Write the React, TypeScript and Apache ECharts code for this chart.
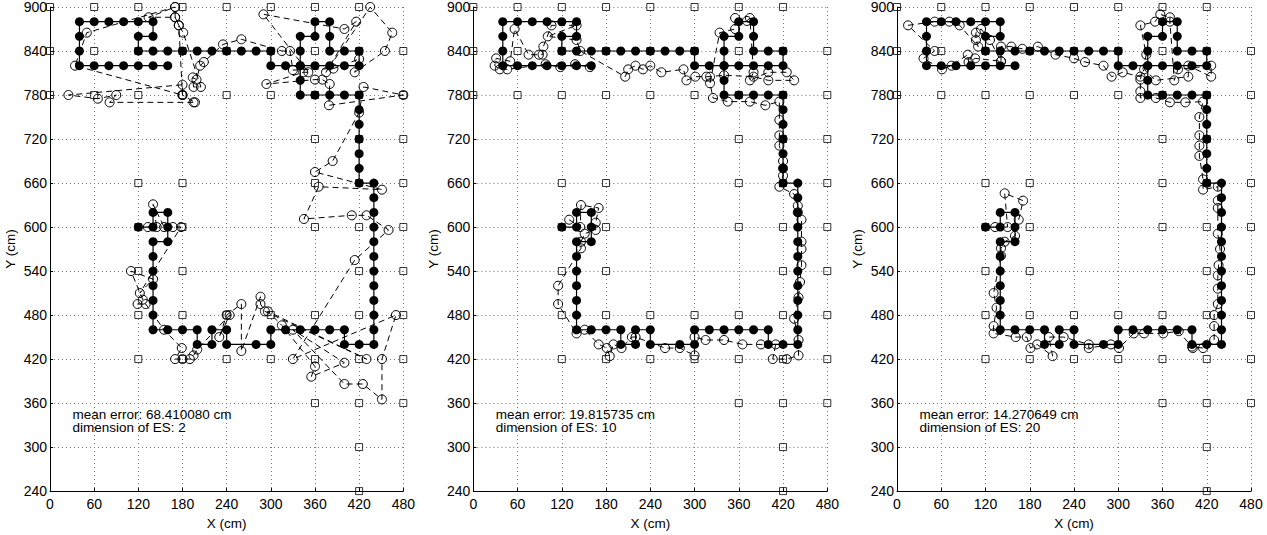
import React, { useEffect, useRef } from "react";
import * as echarts from "echarts";

// Reference (grid) points drawn as squares
const refPoints: [number, number][] = [
  [0, 900], [60, 900], [120, 900], [180, 900], [240, 900], [300, 900], [360, 900], [420, 900],
  [0, 840], [60, 840], [120, 840], [180, 840], [240, 840], [300, 840], [360, 840], [420, 840], [480, 840],
  [0, 780], [60, 780], [120, 780], [180, 780], [240, 780], [300, 780], [360, 780], [420, 780], [480, 780],
  [360, 720], [420, 720], [480, 720],
  [120, 660], [180, 660], [360, 660], [420, 660], [480, 660],
  [120, 600], [180, 600], [360, 600], [420, 600], [480, 600],
  [120, 540], [180, 540], [420, 540], [480, 540],
  [120, 480], [180, 480], [240, 480], [300, 480], [360, 480], [420, 480], [480, 480],
  [120, 420], [180, 420], [240, 420], [300, 420], [360, 420], [420, 420], [480, 420],
  [360, 360], [420, 360], [480, 360],
  [420, 300],
  [420, 240],
];

// True walking path (filled circles)
const truePath: [number, number][] = [
  [120, 600], [140, 600], [140, 620], [160, 620], [160, 600], [160, 580], [140, 580], [140, 560], [140, 540], [140, 520], [140, 500], [140, 480], [140, 460],
  [160, 460], [180, 460], [200, 460], [200, 440], [220, 440], [220, 460], [240, 460], [240, 440], [280, 440], [300, 440], [300, 460], [320, 460], [340, 460], [360, 460], [380, 460], [400, 460], [400, 440], [420, 440], [440, 440],
  [440, 460], [440, 480], [440, 500], [440, 520], [440, 540], [440, 560], [440, 580], [440, 600], [440, 620], [440, 640], [440, 660],
  [420, 660], [420, 680], [420, 700], [420, 720], [420, 740], [420, 760], [420, 780],
  [400, 780], [380, 780], [360, 780], [340, 780], [340, 800], [340, 820], [340, 840], [340, 860], [360, 860], [360, 880], [380, 880], [380, 860], [380, 840], [400, 840], [420, 840], [420, 820], [400, 820], [380, 820], [360, 820], [340, 820], [320, 820], [300, 820], [300, 840],
  [280, 840], [260, 840], [240, 840], [220, 840], [200, 840], [180, 840], [160, 840],
  [140, 840], [120, 840], [120, 860], [140, 860], [140, 880], [120, 880], [100, 880], [80, 880], [60, 880], [40, 880], [40, 860], [40, 840], [40, 820], [60, 820], [80, 820], [100, 820], [120, 820], [140, 820], [160, 820],
];

// Estimated positions, ES dimension 2
const estES2: [number, number][] = [
  [133, 600], [145, 600], [140, 631], [155, 600], [167, 600], [178, 600], [122, 510], [140, 529], [110, 540], [126, 501], [119, 495], [130, 495], [155, 460],
  [179, 435], [170, 420], [180, 420], [190, 420], [195, 425], [200, 433], [244, 480], [230, 450], [240, 480], [260, 495], [260, 431], [286, 505], [286, 495], [292, 485], [430, 420], [296, 485], [315, 466], [360, 410], [355, 396],
  [400, 415], [330, 460], [400, 386], [425, 386], [451, 365], [451, 420], [470, 480], [330, 420], [414, 555], [460, 596], [430, 616],
  [410, 616], [345, 611], [365, 655], [451, 651], [360, 675], [384, 690], [420, 756],
  [426, 791], [480, 780], [379, 766], [380, 795], [370, 801], [360, 801], [294, 795], [344, 811], [351, 811], [290, 890], [400, 870], [416, 880], [375, 811], [435, 900], [465, 865], [455, 840], [414, 811], [420, 829], [385, 816], [330, 814], [326, 840], [315, 840], [260, 856],
  [235, 849], [209, 825], [204, 820], [199, 801], [194, 804], [195, 791], [205, 791],
  [181, 865], [175, 875], [170, 886], [134, 886], [170, 900], [50, 865], [34, 820], [180, 780], [180, 794], [25, 780], [65, 775], [90, 780], [81, 770], [195, 770], [197, 770], [180, 780], [175, 875], [170, 886], [170, 900],
];

// Estimated positions, ES dimension 10
const estES10: [number, number][] = [
  [130, 610], [145, 600], [146, 630], [170, 626], [166, 606], [166, 596], [151, 591], [146, 580], [146, 571], [115, 520], [115, 495], [140, 455], [151, 460],
  [170, 440], [181, 435], [185, 424], [190, 440], [201, 435], [215, 450], [220, 450], [260, 435], [280, 435], [300, 425], [300, 450], [315, 446], [340, 446], [365, 440], [390, 440], [410, 440], [406, 420], [425, 420], [441, 425],
  [441, 446], [435, 475], [441, 504], [443, 525], [445, 548], [445, 570], [445, 580], [445, 610], [440, 620], [440, 629], [435, 645],
  [415, 655], [420, 670], [420, 680], [420, 690], [415, 711], [415, 725], [415, 746],
  [415, 771], [396, 766], [375, 771], [345, 771], [325, 776], [321, 796], [334, 865], [355, 870], [355, 885], [371, 881], [375, 885], [380, 811], [375, 800], [400, 811], [425, 811], [435, 800], [400, 800], [380, 805], [340, 807], [321, 805], [316, 805], [301, 805], [289, 800],
  [285, 815], [255, 811], [240, 820], [230, 815], [220, 820], [210, 815], [206, 805],
  [145, 840], [140, 855], [101, 860], [140, 875], [106, 875], [95, 846], [94, 835], [89, 835], [75, 835], [56, 870], [50, 826], [31, 830], [29, 820], [36, 815], [46, 815], [98, 822], [118, 818], [138, 822], [158, 818],
];

// Estimated positions, ES dimension 20
const estES20: [number, number][] = [
  [133, 600], [150, 600], [146, 646], [171, 636], [165, 610], [160, 588], [146, 580], [141, 571], [141, 561], [131, 510], [135, 490], [131, 465], [131, 455],
  [161, 450], [176, 450], [181, 435], [190, 440], [211, 424], [206, 450], [226, 450], [260, 440], [260, 435], [290, 440], [301, 435], [321, 455], [335, 455], [361, 455], [382, 458], [401, 435], [400, 437], [415, 435], [430, 446],
  [430, 465], [430, 480], [435, 495], [435, 516], [435, 534], [436, 548], [438, 570], [435, 591], [435, 626], [435, 636], [435, 655],
  [415, 651], [415, 665], [410, 697], [410, 711], [410, 725], [410, 750], [415, 771],
  [391, 770], [370, 770], [351, 776], [330, 776], [330, 785], [330, 801], [338, 835], [330, 875], [350, 880], [357, 890], [370, 886], [370, 880], [376, 800], [381, 815], [426, 820], [426, 805], [395, 820], [395, 805], [351, 800], [335, 815], [330, 805], [306, 811], [291, 805],
  [280, 820], [255, 825], [240, 830], [215, 835], [191, 846], [170, 843], [155, 846],
  [141, 846], [141, 826], [126, 855], [114, 870], [107, 865], [107, 855], [110, 846], [85, 875], [71, 880], [51, 880], [15, 875], [51, 840], [36, 830], [61, 815], [74, 820], [96, 835], [97, 825], [106, 830], [141, 826],
];

const estimates = [estES2, estES10, estES20];
const meanErrors = ["68.410080", "19.815735", "14.270649"];
const esDims = [2, 10, 20];

const FONT = "'Liberation Sans', Arial, Helvetica, sans-serif";

const panelLeft = [50, 473.3, 897];
const panelWidth = [353.3, 354, 354];
const panelTop = 7;
const panelHeight = 485.5;

export default function App() {
  const ref = useRef<HTMLDivElement>(null);

  useEffect(() => {
    if (!ref.current) return;
    const chart = echarts.init(ref.current, null, { renderer: "svg" });

    const grids = panelLeft.map((l, i) => ({
      left: l,
      top: panelTop,
      width: panelWidth[i],
      height: panelHeight,
      containLabel: false,
    }));

    const xAxes = panelLeft.map((_, i) => ({
      type: "value",
      gridIndex: i,
      min: 0,
      max: 480,
      interval: 60,
      name: "X (cm)",
      nameLocation: "middle",
      nameGap: 23,
      nameTextStyle: { color: "#000", fontSize: 13.5, fontFamily: FONT },
      axisLine: { show: true, onZero: false, lineStyle: { color: "#000", width: 1 } },
      axisTick: { show: true, inside: true, length: 3, lineStyle: { color: "#000" } },
      axisLabel: { color: "#000", fontSize: 14, margin: 6, fontFamily: FONT },
      splitLine: { show: true, lineStyle: { color: "#777", width: 1, type: [1, 3] } },
    }));

    const yAxes = panelLeft.map((_, i) => ({
      type: "value",
      gridIndex: i,
      min: 240,
      max: 900,
      interval: 60,
      name: "Y (cm)",
      nameLocation: "middle",
      nameGap: 33,
      nameRotate: 90,
      nameTextStyle: { color: "#000", fontSize: 13.5, fontFamily: FONT },
      axisLine: { show: true, onZero: false, lineStyle: { color: "#000", width: 1 } },
      axisTick: { show: true, inside: true, length: 3, lineStyle: { color: "#000" } },
      axisLabel: { color: "#000", fontSize: 14, margin: 3, fontFamily: FONT },
      splitLine: { show: true, lineStyle: { color: "#777", width: 1, type: [1, 3] } },
    }));

    const series: any[] = [];
    panelLeft.forEach((_, i) => {
      series.push({
        type: "scatter",
        xAxisIndex: i,
        yAxisIndex: i,
        data: refPoints,
        symbol: "rect",
        symbolSize: 7,
        itemStyle: { color: "rgba(0,0,0,0)", borderColor: "#000", borderWidth: 1 },
        z: 2,
        silent: true,
      });
      series.push({
        type: "line",
        xAxisIndex: i,
        yAxisIndex: i,
        data: truePath,
        symbol: "circle",
        symbolSize: 9,
        showAllSymbol: true,
        lineStyle: { color: "#000", width: 1.2 },
        itemStyle: { color: "#000", borderColor: "#000", borderWidth: 0 },
        z: 3,
        silent: true,
      });
      series.push({
        type: "line",
        xAxisIndex: i,
        yAxisIndex: i,
        data: estimates[i],
        symbol: "circle",
        symbolSize: 9,
        showAllSymbol: true,
        lineStyle: { color: "#000", width: 1, type: [6, 4] },
        itemStyle: { color: "rgba(0,0,0,0)", borderColor: "#000", borderWidth: 1 },
        z: 4,
        silent: true,
      });
    });

    const graphics = panelLeft.map((l, i) => ({
      type: "text",
      left: l + 22.5,
      top: 407,
      z: 10,
      style: {
        text: `mean error: ${meanErrors[i]} cm\ndimension of ES: ${esDims[i]}`,
        fontSize: 13.5,
        lineHeight: 13.5,
        fill: "#000",
        fontFamily: FONT,
      },
    }));

    chart.setOption({
      animation: false,
      backgroundColor: "#fff",
      grid: grids,
      xAxis: xAxes,
      yAxis: yAxes,
      series,
      graphic: graphics,
    });

    return () => chart.dispose();
  }, []);

  return (
    <div
      ref={ref}
      style={{ position: "absolute", left: 0, top: 0, width: 1267, height: 535, background: "#fff" }}
    />
  );
}
